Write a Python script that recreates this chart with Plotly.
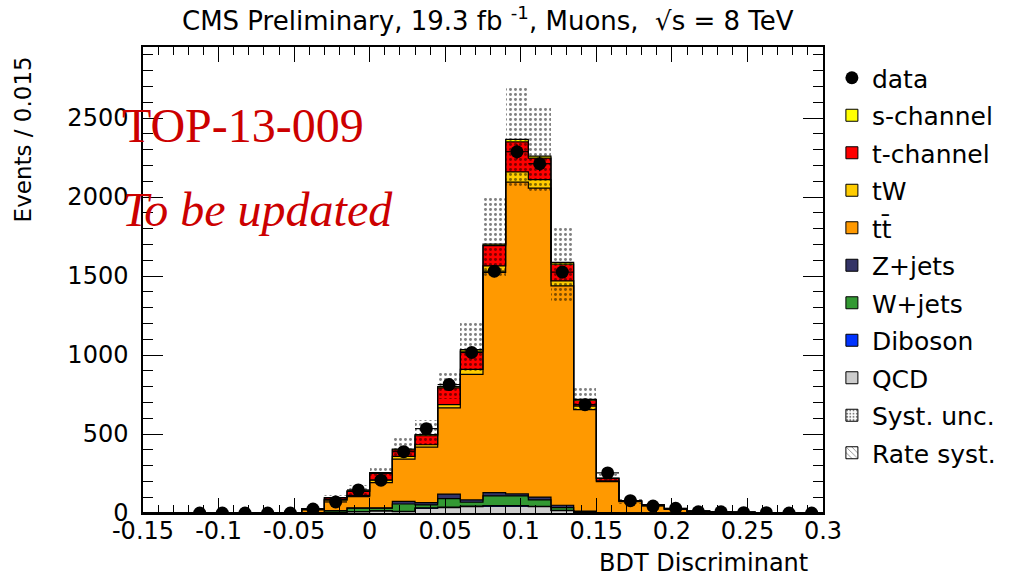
import numpy as np
import plotly.graph_objects as go

# ---------------- data ----------------
bin_width = 0.015
x_lo, x_hi = -0.15, 0.30
n_bins = 30

qcd     = [0, 0, 0, 0, 0, 0, 0, 0, 2, 8, 13, 8, 30, 34, 40, 44, 44, 40, 15, 4, 1, 0, 0, 0, 0, 0, 0, 0, 0, 0]
diboson = [0, 0, 0, 0, 0, 0, 0, 0, 0, 1, 1, 2, 2, 3, 3, 3, 3, 2, 1, 1, 0, 0, 0, 0, 0, 0, 0, 0, 0, 0]
wjets   = [0, 0, 0, 0, 0, 0, 0, 3, 12, 21, 16, 47, 19, 54, 25, 61, 61, 41, 18, 3, 0, 0, 0, 0, 0, 0, 0, 0, 0, 0]
zjets   = [0, 0, 0, 0, 0, 0, 0, 0, 1, 2, 2, 17, 15, 28, 15, 21, 13, 17, 15, 4, 0, 0, 0, 0, 0, 0, 0, 0, 0, 0]
ttbar   = [0, 0, 0, 0, 0, 0, 3, 17, 66, 72, 160, 267, 351, 546, 794, 1394, 1974, 1956, 1389, 643, 198, 72, 48, 25, 12, 8, 5, 3, 2, 1]
tw      = [0, 0, 0, 0, 0, 0, 0, 2, 4, 8, 17, 17, 15, 21, 32, 42, 64, 55, 32, 21, 5, 2, 1, 0, 0, 0, 0, 0, 0, 0]
tchan   = [0, 0, 0, 0, 0, 0, 0, 5, 10, 25, 42, 42, 57, 106, 116, 127, 190, 135, 106, 38, 15, 4, 2, 1, 0, 0, 0, 0, 0, 0]
schan   = [0, 0, 0, 0, 0, 0, 0, 1, 2, 3, 4, 5, 7, 8, 10, 10, 16, 13, 10, 5, 2, 1, 0, 0, 0, 0, 0, 0, 0, 0]

syst_up   = [0, 0, 0, 0, 0, 0, 5, 40, 115, 175, 298, 474, 591, 898, 1209, 1993, 2692, 2565, 1815, 803, 250, 90, 58, 30, 16, 10, 6, 4, 3, 2]
syst_down = [0, 0, 0, 0, 0, 0, 2, 22, 80, 115, 225, 360, 430, 720, 900, 1500, 2060, 2030, 1340, 650, 195, 60, 42, 22, 10, 6, 4, 2, 1, 0]

data = [None, None, 0, 0, 0, 0, 0, 25, 70, 146, 208, 388, 534, 813, 1016, 1531, 2287, 2211, 1525, 686, 254, 78, 44, 30, 8, 8, 2, 2, 0, 0]

x_tick_vals = [-0.15, -0.1, -0.05, 0, 0.05, 0.1, 0.15, 0.2, 0.25, 0.3]
x_tick_text = ["-0.15", "-0.1", "-0.05", "0", "0.05", "0.1", "0.15", "0.2", "0.25", "0.3"]
y_tick_vals = [0, 500, 1000, 1500, 2000, 2500]

components = [  # bottom -> top
    ("QCD", qcd, "#cccccc"),
    ("Diboson", diboson, "#0033ff"),
    ("W+jets", wjets, "#339933"),
    ("Z+jets", zjets, "#333366"),
    ("tt\u0304", ttbar, "#ff9900"),
    ("tW", tw, "#ffcc00"),
    ("t-channel", tchan, "#ff0000"),
    ("s-channel", schan, "#ffff00"),
]
legend_order = ["s-channel", "t-channel", "tW", "tt\u0304", "Z+jets", "W+jets", "Diboson", "QCD"]

# ---------------- geometry ----------------
edges = x_lo + bin_width * np.arange(n_bins + 1)
centers = edges[:-1] + bin_width / 2

fig = go.Figure()

# stacked histogram
base = np.zeros(n_bins)
tops = []
for name, vals, col in components:
    v = np.array(vals, dtype=float)
    fig.add_trace(go.Bar(
        x=centers, y=v, base=base.copy(), width=bin_width,
        marker=dict(color=col, line=dict(width=0)),
        showlegend=False, hoverinfo="skip", name=name))
    base = base + v
    tops.append(base.copy())

# systematic uncertainty band (dotted)
up = np.array(syst_up, dtype=float)
dn = np.array(syst_down, dtype=float)
fig.add_trace(go.Bar(
    x=centers, y=up - dn, base=dn, width=bin_width,
    marker=dict(color="rgba(0,0,0,0)", line=dict(width=0),
                pattern=dict(shape=".", fgcolor="black", bgcolor="rgba(0,0,0,0)",
                             size=5, solidity=0.28)),
    showlegend=False, hoverinfo="skip", name="Syst. unc."))

# step outlines of each stacked component
for t in tops:
    fig.add_trace(go.Scatter(
        x=edges, y=np.append(t, t[-1]), mode="lines",
        line=dict(color="black", width=1.2, shape="hv"),
        showlegend=False, hoverinfo="skip"))

# data
d = np.array([np.nan if v is None else v for v in data], dtype=float)
fig.add_trace(go.Scatter(
    x=centers, y=d, mode="markers", name="data",
    marker=dict(color="black", size=13),
    error_y=dict(type="data", array=np.sqrt(np.nan_to_num(d)), color="black", thickness=1.2, width=0),
    error_x=dict(type="constant", value=bin_width / 2, color="black", thickness=1.2, width=0),
    legendgroup="data", legendrank=1))

# legend entries
colmap = {n: c for n, _, c in components}
for i, name in enumerate(legend_order):
    fig.add_trace(go.Bar(
        x=[None], y=[None], name=name, legendgroup=name, legendrank=2 + i,
        marker=dict(color=colmap[name], line=dict(color="black", width=1))))
fig.add_trace(go.Bar(
    x=[None], y=[None], name="Syst. unc.", legendgroup="syst", legendrank=20,
    marker=dict(color="white", line=dict(color="black", width=1),
                pattern=dict(shape=".", fgcolor="black", bgcolor="white", size=4, solidity=0.3))))
fig.add_trace(go.Bar(
    x=[None], y=[None], name="Rate syst.", legendgroup="rate", legendrank=21,
    marker=dict(color="white", line=dict(color="black", width=1),
                pattern=dict(shape="\\", fgcolor="black", bgcolor="white", size=5, solidity=0.2))))

L, R, T, B = 143, 182, 47, 63
W, H = 1013, 576
pw, ph = W - L - R, H - T - B

def px(xp):
    return (xp - L) / pw

def py(yp):
    return (H - B - yp) / ph

fig.update_layout(
    width=W, height=H,
    margin=dict(l=L, r=R, t=T, b=B, pad=0),
    paper_bgcolor="white", plot_bgcolor="white",
    barmode="overlay", bargap=0,
    font=dict(family="DejaVu Sans", color="black", size=24),
    legend=dict(x=px(840), y=py(55), xanchor="left", yanchor="top",
                font=dict(size=25, family="DejaVu Sans"),
                bgcolor="rgba(0,0,0,0)", traceorder="grouped",
                tracegroupgap=2, itemwidth=30),
    xaxis=dict(range=[x_lo, x_hi], tickmode="array", tickvals=x_tick_vals, ticktext=x_tick_text,
               ticks="inside", ticklen=15, tickwidth=1.2, tickcolor="black",
               minor=dict(dtick=0.01, tick0=x_lo, ticks="inside", ticklen=8, tickwidth=1.2, tickcolor="black"),
               showline=True, linecolor="black", linewidth=1.5, mirror="ticks",
               showgrid=False, zeroline=False, tickfont=dict(size=24), ticklabelstandoff=-5),
    yaxis=dict(range=[0, 2950], tickmode="array", tickvals=y_tick_vals,
               ticks="inside", ticklen=20, tickwidth=1.2, tickcolor="black",
               minor=dict(dtick=100, tick0=0, ticks="inside", ticklen=10, tickwidth=1.2, tickcolor="black"),
               showline=True, linecolor="black", linewidth=1.5, mirror="ticks",
               showgrid=False, zeroline=False, tickfont=dict(size=24), ticklabelstandoff=8),
    annotations=[
        dict(text="CMS Preliminary, 19.3 fb <sup>-1</sup>, Muons,  \u221As = 8 TeV",
             xref="paper", yref="paper", x=px(492), y=py(19), xanchor="center", yanchor="middle",
             showarrow=False, font=dict(size=26, family="DejaVu Sans")),
        dict(text="Events / 0.015", textangle=-90,
             xref="paper", yref="paper", x=px(22), y=py(139), xanchor="center", yanchor="middle",
             showarrow=False, font=dict(size=23, family="DejaVu Sans")),
        dict(text="BDT Discriminant",
             xref="paper", yref="paper", x=px(818), y=py(563), xanchor="right", yanchor="middle",
             showarrow=False, font=dict(size=24, family="DejaVu Sans")),
        dict(text="TOP-13-009",
             xref="paper", yref="paper", x=px(120), y=py(125), xanchor="left", yanchor="middle",
             showarrow=False, font=dict(size=48, family="Liberation Serif", color="#cc0000")),
        dict(text="<i>To be updated</i>",
             xref="paper", yref="paper", x=px(120), y=py(210), xanchor="left", yanchor="middle",
             showarrow=False, font=dict(size=48, family="Liberation Serif", color="#cc0000")),
    ],
)

fig.write_html("out.html")
